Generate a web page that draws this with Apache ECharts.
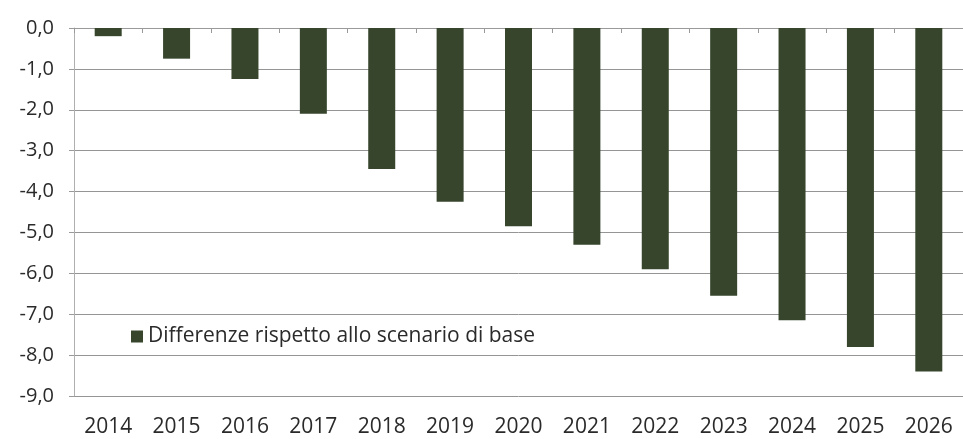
<!DOCTYPE html>
<html>
<head>
<meta charset="utf-8">
<script src="https://cdn.jsdelivr.net/npm/echarts@6/dist/echarts.min.js"></script>
<style>
  html, body { margin: 0; padding: 0; background: #ffffff; }
  #chart { width: 963px; height: 439px; }
</style>
</head>
<body>
<div id="chart"></div>
<script>
// Anni di proiezione
const years = ['2014', '2015', '2016', '2017', '2018', '2019', '2020',
               '2021', '2022', '2023', '2024', '2025', '2026'];
// Differenze rispetto allo scenario di base
const differenze = [-0.2, -0.75, -1.25, -2.1, -3.45, -4.25, -4.85,
                    -5.3, -5.9, -6.55, -7.15, -7.8, -8.4];
const seriesName = 'Differenze rispetto allo scenario di base';

const FONT = 'Open Sans';
const BAR = '#36452c';

const chart = echarts.init(document.getElementById('chart'), null, { renderer: 'canvas' });
chart.setOption({
  animation: false,
  backgroundColor: '#ffffff',
  grid: { left: 74, top: 28, bottom: 43, right: -5, containLabel: false },
  legend: {
    left: 126, top: 321,
    itemWidth: 12, itemHeight: 12, itemGap: 6,
    icon: 'rect',
    data: [seriesName],
    textStyle: { fontFamily: FONT, fontSize: 21, color: '#2a2a2a', padding: [0, 0, 0, 0] }
  },
  xAxis: [
    {
      type: 'category', data: years, position: 'bottom',
      axisLine: { show: false, onZero: false },
      axisTick: { show: false },
      axisLabel: { fontFamily: FONT, fontSize: 21, color: '#2a2a2a', margin: 21 }
    },
    {
      type: 'category', data: years, position: 'top',
      axisLine: { show: true, onZero: false, lineStyle: { color: '#9a9a9a', width: 1 } },
      axisTick: { show: true, inside: true, length: 5, lineStyle: { color: '#9a9a9a' } },
      axisLabel: { show: false }
    }
  ],
  yAxis: {
    type: 'value', min: -9, max: 0, interval: 1,
    axisLine: { show: true, lineStyle: { color: '#b0b0b0', width: 1 } },
    axisTick: { show: true, length: 5, lineStyle: { color: '#9a9a9a' } },
    splitLine: { show: true, lineStyle: { color: '#959595', width: 1 } },
    axisLabel: {
      fontFamily: FONT, fontSize: 20, color: '#2a2a2a', margin: 20,
      formatter: v => v.toFixed(1).replace('.', ',')
    }
  },
  series: [{
    name: seriesName,
    type: 'bar',
    xAxisIndex: 0,
    data: differenze,
    barWidth: 27,
    itemStyle: { color: BAR }
  }]
});
</script>
</body>
</html>
